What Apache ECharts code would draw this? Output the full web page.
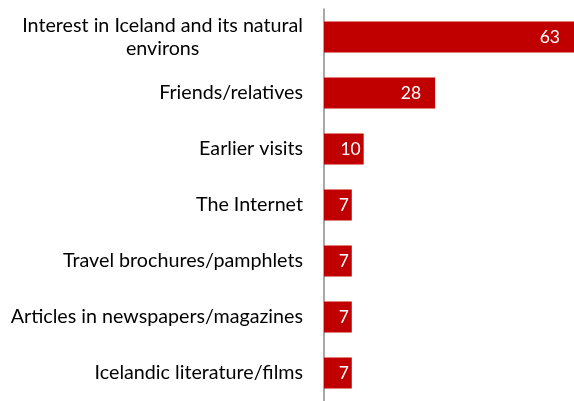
<!DOCTYPE html>
<html>
<head>
<meta charset="utf-8">
<script src="https://cdn.jsdelivr.net/npm/echarts@6/dist/echarts.min.js"></script>
<style>
  html, body { margin: 0; padding: 0; background: #fff; }
  #chart { width: 574px; height: 401px; }
</style>
</head>
<body>
<div id="chart"></div>
<script>
// Sources of information about Iceland (share of respondents, %)
const categories = [
  'Interest in Iceland and its natural\nenvirons',
  'Friends/relatives',
  'Earlier visits',
  'The Internet',
  'Travel brochures/pamphlets',
  'Articles in newspapers/magazines',
  'Icelandic literature/films'
];
const values = [63, 28, 10, 7, 7, 7, 7];

const FONT = 'Lato';

// Longer bars keep their value label further in from the end
const seriesData = values.map(v => ({
  value: v,
  label: { distance: v >= 20 ? 14 : 3 }
}));

const chart = echarts.init(document.getElementById('chart'));
chart.setOption({
  animation: false,
  grid: { left: 324, width: 250, top: 9, height: 399, containLabel: false },
  xAxis: {
    type: 'value',
    min: 0,
    max: 63,
    show: false
  },
  yAxis: {
    type: 'category',
    data: categories,
    inverse: true,
    axisLine: { show: true, lineStyle: { color: '#8c8c8c', width: 1.5 } },
    axisTick: { show: false },
    splitLine: { show: false },
    axisLabel: {
      margin: 21,
      color: '#000',
      fontFamily: FONT,
      fontSize: 19.7,
      formatter: function (txt) {
        if (txt.indexOf('\n') >= 0) {
          return txt.split('\n').map(s => '{c|' + s + '}').join('\n');
        }
        return txt;
      },
      rich: {
        c: { align: 'center', fontFamily: FONT, fontSize: 19.7, color: '#000', lineHeight: 23 }
      }
    }
  },
  series: [{
    type: 'bar',
    data: seriesData,
    barWidth: 31,
    itemStyle: { color: '#c00000' },
    label: {
      show: true,
      position: 'insideRight',
      color: '#fff',
      fontFamily: FONT,
      fontSize: 17.5
    }
  }]
});
</script>
</body>
</html>
